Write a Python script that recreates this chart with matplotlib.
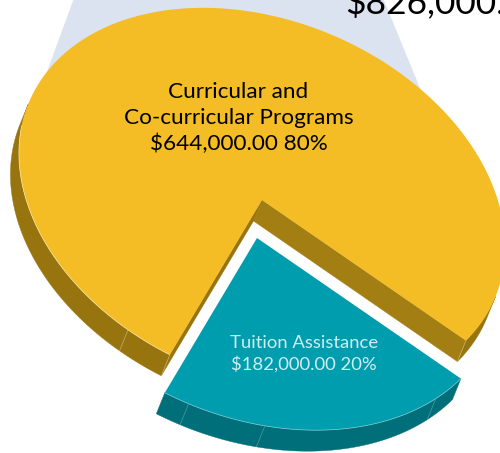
import numpy as np
import matplotlib
matplotlib.use("Agg")
import matplotlib.pyplot as plt
from matplotlib.patches import Polygon

plt.rcParams["font.family"] = ["Lato", "DejaVu Sans"]

labels = ["Curricular and\nCo-curricular Programs", "Tuition Assistance"]
values = [644000.0, 182000.0]
shares = [80, 20]

# tilted disc on the page, in pixels
CENTER = np.array([262.0, 200.0])
RX, RY, TILT = 252.7, 179.3, np.radians(22.85)
START = 16.32
DEPTH = np.array([-8.5, 21.0])
EXPLODE = np.array([-5.0, 38.0])
# faint seams on the rim, in disc degrees
YEL_SEAMS = [106.8]
TEAL_SEAMS = [26.0, 71.5, 89.7]

YEL, YEL_SIDE, YEL_CUT = "#F4BC25", "#98740F", "#A37F13"
TEAL, TEAL_SIDE = "#009DAE", "#006F7A"
TILT_M = np.array([[np.cos(TILT), -np.sin(TILT)], [np.sin(TILT), np.cos(TILT)]])


def project(deg):
    t = np.radians(np.atleast_1d(deg))
    return (TILT_M @ np.vstack([RX * np.cos(t), RY * np.sin(t)])).T + CENTER


def rim_runs(deg):
    # parts of an arc whose outward side faces the viewer
    t = np.radians(deg)
    normal = TILT_M @ np.vstack([np.cos(t) / RX, np.sin(t) / RY])
    seen = DEPTH @ normal > 0
    runs = np.split(deg, np.flatnonzero(np.diff(seen)) + 1)
    flags = np.split(seen, np.flatnonzero(np.diff(seen)) + 1)
    return [r for r, f in zip(runs, flags) if f[0] and len(r) > 1]


def rim(ax, deg, color, z, shift=0):
    for run in rim_runs(deg):
        p = project(run) + shift
        ax.add_patch(Polygon(np.vstack([p, (p + DEPTH)[::-1]]), fc=color, ec=color, lw=0.3, zorder=z))


def quad(ax, a, b, color, z):
    ax.add_patch(Polygon([a, b, b + DEPTH, a + DEPTH], fc=color, ec=color, lw=0.3, zorder=z))


def seam(ax, p, color):
    ax.plot(*np.array([p, p + DEPTH]).T, color=color, lw=0.5, zorder=8)


sweep = 360 * values[1] / sum(values)
teal_end = START + sweep

fig = plt.figure(figsize=(5, 4.53), dpi=100)
ax = fig.add_axes([0, 0, 1, 1])
ax.set_xlim(0, 500); ax.set_ylim(453, 0); ax.axis("off")

# pale backdrop behind the pie
ax.add_patch(Polygon([(74, -2), (383, -2), (429, 110), (33, 110)], fc="#DCE3F0", ec="none", zorder=1))

# large slice
yel_deg = np.linspace(teal_end, START + 360, 400)
rim(ax, yel_deg, YEL_SIDE, 2)
quad(ax, CENTER, project(START)[0], YEL_CUT, 3)
quad(ax, CENTER, project(teal_end)[0], YEL_SIDE, 3)
ax.add_patch(Polygon(np.vstack([CENTER, project(yel_deg)]), fc=YEL, ec="none", zorder=4))
ax.plot(*project(np.linspace(teal_end, 172, 120)).T, color="#FBE7A8", lw=0.5, zorder=5)
for t in YEL_SEAMS + [teal_end, START]:
    seam(ax, project(t)[0], "#C9B074")

# exploded slice
teal_deg = np.linspace(START, teal_end, 120)
arc2 = project(teal_deg) + EXPLODE
rim(ax, teal_deg, TEAL_SIDE, 6, EXPLODE)
ax.add_patch(Polygon(np.vstack([CENTER + EXPLODE, arc2]), fc=TEAL, ec="none", zorder=7))
ax.plot(*arc2.T, color="#7FCBD4", lw=0.5, zorder=8)
for t in TEAL_SEAMS:
    seam(ax, project(t)[0] + EXPLODE, "#4E9AA3")

ax.text(238.5, 118, f"{labels[0]}\n${values[0]:,.2f} {shares[0]}%", ha="center", va="center",
        fontsize=16.2, color="black", linespacing=1.35, zorder=10)
ax.text(304, 354, f"{labels[1]}\n${values[1]:,.2f} {shares[1]}%", ha="center", va="center",
        fontsize=13.3, color="#D0EEF1", linespacing=1.31, zorder=10)
ax.text(345, 13, f"${sum(values):,.2f}", ha="left", va="baseline", fontsize=25.5, color="black",
        zorder=10)

fig.savefig("out.png", dpi=100)
